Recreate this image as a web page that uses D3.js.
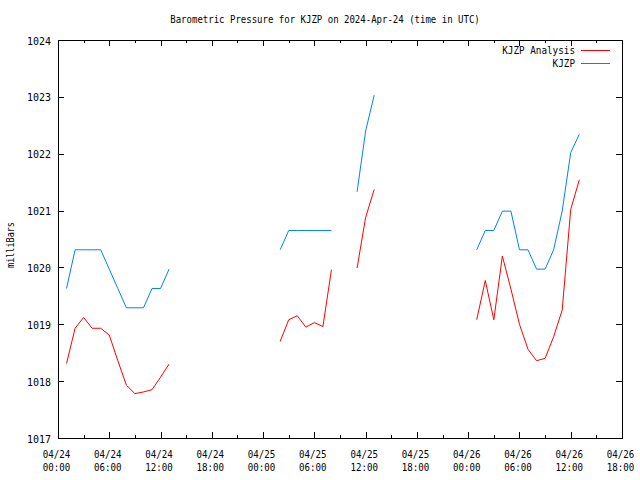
<!DOCTYPE html>
<html><head><meta charset="utf-8">
<script src="https://cdn.jsdelivr.net/npm/d3@7"></script>
<style>body{margin:0;background:#fff}svg{display:block}</style>
</head><body>
<svg id="c" width="640" height="480"></svg>
<script>
// ---- data (hours since 2024-04-24 00:00 UTC) ----
const titleText = "Barometric Pressure for KJZP on 2024-Apr-24 (time in UTC)";
const yLabel = "milliBars";
const seriesNames = ["KJZP Analysis", "KJZP"];
const seriesColors = ["#ff0000", "#0080ff"];
const yTicks = [1017, 1018, 1019, 1020, 1021, 1022, 1023, 1024];
const xTickDates = ["04/24","04/24","04/24","04/24","04/25","04/25","04/25","04/25","04/26","04/26","04/26","04/26"];
const xTickTimes = ["00:00","06:00","12:00","18:00","00:00","06:00","12:00","18:00","00:00","06:00","12:00","18:00"];
const hours = [1,2,3,4,5,6,7,8,9,10,11,12,13,
  26,27,28,29,30,31,32,
  35,36,37,
  49,50,51,52,53,54,55,56,57,58,59,60,61];
const analysis = [1018.31,1018.93,1019.12,1018.93,1018.93,1018.81,1018.36,1017.93,1017.78,1017.81,1017.85,1018.07,1018.30,
  1018.70,1019.08,1019.15,1018.95,1019.03,1018.96,1019.96,
  1019.99,1020.88,1021.37,
  1019.08,1019.77,1019.08,1020.20,1019.62,1019.00,1018.56,1018.36,1018.40,1018.78,1019.25,1021.02,1021.54];
const observed = [1019.63,1020.31,1020.31,1020.31,1020.31,1019.97,1019.63,1019.29,1019.29,1019.29,1019.63,1019.63,1019.97,
  1020.31,1020.65,1020.65,1020.65,1020.65,1020.65,1020.65,
  1021.33,1022.40,1023.03,
  1020.31,1020.65,1020.65,1020.99,1020.99,1020.31,1020.31,1019.97,1019.97,1020.31,1020.99,1022.02,1022.34];

// ---- layout ----
const L = 58, R = 622, T = 40, B = 438;
const FONT = "'DejaVu Sans Mono', 'Liberation Mono', monospace";
const svg = d3.select("#c");
const t0 = Date.UTC(2024, 3, 24, 0);
const toDate = h => new Date(t0 + h * 3600e3);
const x = d3.scaleUtc().domain([toDate(0), toDate(66)]).range([L, R]);
const y = d3.scaleLinear().domain([1017, 1024]).range([B, T]);

function txt(sel, s, cw) {
  sel.text(s).attr("font-family", FONT).attr("font-size", 11)
    .attr("textLength", s.length * cw).attr("lengthAdjust", "spacingAndGlyphs");
  return sel;
}

const majorTicks = d3.range(0, 67, 6).map(toDate);
const minorTicks = d3.range(3, 66, 6).map(toDate);

// bottom axis (major, with labels)
const gB = svg.append("g").attr("transform", `translate(0,${B})`)
  .call(d3.axisBottom(x).tickValues(majorTicks).tickSizeInner(-6).tickSizeOuter(0).tickPadding(10).tickFormat(""));
gB.selectAll(".tick").each(function(d, i) {
  const g = d3.select(this);
  g.select("text").remove();
  txt(g.append("text").attr("x", -2).attr("y", 20).attr("text-anchor", "middle").attr("fill", "#000"), xTickDates[i], 5.5);
  txt(g.append("text").attr("x", -2).attr("y", 33).attr("text-anchor", "middle").attr("fill", "#000"), xTickTimes[i], 5.5);
});
svg.append("g").attr("transform", `translate(0,${B})`)
  .call(d3.axisBottom(x).tickValues(minorTicks).tickSizeInner(-3).tickSizeOuter(0).tickFormat(""));
// top axis (mirror)
svg.append("g").attr("transform", `translate(0,${T})`)
  .call(d3.axisTop(x).tickValues(majorTicks).tickSizeInner(-6).tickSizeOuter(0).tickFormat(""));
svg.append("g").attr("transform", `translate(0,${T})`)
  .call(d3.axisTop(x).tickValues(minorTicks).tickSizeInner(-3).tickSizeOuter(0).tickFormat(""));
// left axis
const gL = svg.append("g").attr("transform", `translate(${L},0)`)
  .call(d3.axisLeft(y).tickValues(yTicks).tickSizeInner(-6).tickSizeOuter(0).tickPadding(6).tickFormat(""));
gL.selectAll(".tick").each(function(d) {
  const g = d3.select(this);
  g.select("text").remove();
  txt(g.append("text").attr("x", -7).attr("y", 4).attr("text-anchor", "end").attr("fill", "#000"), String(d), 6);
});
// right axis
svg.append("g").attr("transform", `translate(${R},0)`)
  .call(d3.axisRight(y).tickValues(yTicks).tickSizeInner(-6).tickSizeOuter(0).tickFormat(""));
svg.selectAll(".domain").remove();
svg.selectAll(".tick line").attr("stroke", "#000").attr("shape-rendering", "crispEdges");

// frame
svg.append("rect").attr("x", L + 0.5).attr("y", T + 0.5).attr("width", R - L).attr("height", B - T)
  .attr("fill", "none").attr("stroke", "#000").attr("shape-rendering", "crispEdges");

// lines with gaps
function makeLine(vals) {
  const pts = hours.map((h, i) => ({h, v: vals[i]}));
  const out = [];
  pts.forEach((p, i) => {
    if (i > 0 && p.h - pts[i - 1].h > 1) out.push(null);
    out.push(p);
  });
  return d3.line().defined(d => d !== null).x(d => x(toDate(d.h))).y(d => y(d.v))(out);
}
svg.append("path").attr("d", makeLine(analysis)).attr("fill", "none").attr("stroke", seriesColors[0]).attr("stroke-width", 1);
svg.append("path").attr("d", makeLine(observed)).attr("fill", "none").attr("stroke", seriesColors[1]).attr("stroke-width", 1);

// title
txt(svg.append("text").attr("x", 325).attr("y", 23).attr("text-anchor", "middle"), titleText, 5.43);
// y label
txt(svg.append("text").attr("transform", "translate(14,245) rotate(-90)").attr("text-anchor", "middle"), yLabel, 5.1);

// legend
seriesNames.forEach((n, i) => {
  const yy = 50 + i * 13;
  txt(svg.append("text").attr("x", 575).attr("y", yy + 4).attr("text-anchor", "end"), n, 5.6);
  svg.append("line").attr("x1", 581).attr("x2", 610).attr("y1", yy + 0.5).attr("y2", yy + 0.5)
    .attr("stroke", seriesColors[i]).attr("shape-rendering", "crispEdges");
});
</script>
</body></html>
